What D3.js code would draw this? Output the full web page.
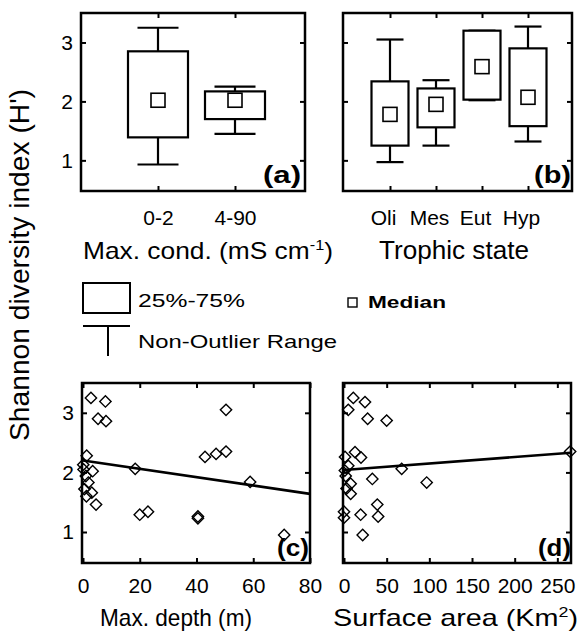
<!DOCTYPE html>
<html><head><meta charset="utf-8">
<script src="https://cdn.jsdelivr.net/npm/d3@7"></script>
<style>
body{margin:0;background:#fff}
svg{display:block}
text{font-family:"Liberation Sans",Arial,sans-serif;fill:#000}
</style>
</head><body>
<svg id="chart" width="580" height="637"></svg>
<script>
// ---------- data ----------
const yTicks = [1, 2, 3];

const condCats = ["0-2", "4-90"];
const condLo  = [0.93, 1.45];
const condQ1  = [1.39, 1.70];
const condMed = [2.02, 2.02];
const condQ3  = [2.85, 2.17];
const condHi  = [3.25, 2.25];

const trophCats = ["Oli", "Mes", "Eut", "Hyp"];
const trophLo  = [0.97, 1.25, 2.02, 1.32];
const trophQ1  = [1.25, 1.56, 2.03, 1.58];
const trophMed = [1.78, 1.95, 2.59, 2.07];
const trophQ3  = [2.34, 2.22, 3.20, 2.90];
const trophHi  = [3.05, 2.36, 3.20, 3.27];

const depthTicks = [0, 20, 40, 60, 80];
const depthX = [2.8, 7.9, 5.3, 8.1, 50.4, 1.3, 43, 46.9, 50.4, 18.4, 0.1, 3.4, 1.0, 1.9, 0.5, 3.1, 1.2, 4.6, 20, 22.9, 40.5, 40.5, 58.9, 70.9, 0.2];
const depthH = [3.25, 3.19, 2.90, 2.86, 3.05, 2.28, 2.26, 2.31, 2.35, 2.06, 2.13, 2.02, 1.94, 1.83, 1.72, 1.66, 1.60, 1.46, 1.29, 1.34, 1.26, 1.23, 1.84, 0.95, 2.05];
const depthFit = [2.20, -0.007];   // intercept, slope

const areaTicks = [0, 50, 100, 150, 200, 250];
const areaX = [10.9, 24.6, 5, 27.7, 50, 12.9, 19.9, 1.2, 5, 67.6, 265, 33.2, 96.9, 7.8, 7.8, 2, 39, 0, 19.5, 40, 0, 21.9, 3, 1];
const areaH = [3.25, 3.18, 3.05, 2.90, 2.87, 2.34, 2.25, 2.26, 2.11, 2.06, 2.35, 1.89, 1.83, 1.81, 1.64, 1.94, 1.46, 1.34, 1.29, 1.26, 1.24, 0.95, 1.73, 2.03];
const areaFit = [2.04, 0.00109];

// ---------- layout ----------
const svg = d3.select("#chart");
const yDomain = [0.48, 3.5];
const P = {
  a: {x0: 81,  x1: 305, y0: 13,  y1: 191},
  b: {x0: 343, x1: 572, y0: 13,  y1: 191},
  c: {x0: 82,  x1: 310, y0: 383, y1: 563},
  d: {x0: 343, x1: 571, y0: 383, y1: 563}
};
const TS = 5; // inward tick length
const TF = 21; // tick font size

function txt(x, y, s, size, opt = {}) {
  const t = svg.append("text").attr("x", x).attr("y", y)
    .style("font-size", size + "px");
  if (opt.weight) t.style("font-weight", opt.weight);
  if (opt.anchor) t.attr("text-anchor", opt.anchor);
  if (opt.sup) {
    t.append("tspan").text(s);
    t.append("tspan").text(opt.sup).attr("dy", -size * 0.38).style("font-size", (size * 0.62) + "px");
    t.append("tspan").text(opt.after).attr("dy", size * 0.38);
  } else t.text(s);
  if (opt.len) t.attr("textLength", opt.len).attr("lengthAdjust", "spacingAndGlyphs");
  return t;
}

function styleAxis(g, size) {
  g.select(".domain").remove();
  g.selectAll(".tick line").attr("stroke", "#000").attr("stroke-width", 2);
  g.selectAll(".tick text").style("font-size", size + "px").attr("fill", "#000")
    .style("font-family", '"Liberation Sans",Arial,sans-serif');
}

function framePanel(p, x, y, showYLabels, xLabelPad, xLabelDx) {
  const isBand = x.tv === undefined;
  const yl = svg.append("g").attr("transform", `translate(${p.x0},0)`)
    .call(d3.axisLeft(y).tickValues(yTicks).tickSize(-TS).tickPadding(8)
      .tickFormat(showYLabels ? d3.format("d") : () => ""));
  styleAxis(yl, TF);
  const yr = svg.append("g").attr("transform", `translate(${p.x1},0)`)
    .call(d3.axisRight(y).tickValues(yTicks).tickSize(-TS).tickFormat(() => ""));
  styleAxis(yr, TF);
  const xb = svg.append("g").attr("transform", `translate(0,${p.y1})`)
    .call((isBand ? d3.axisBottom(x) : d3.axisBottom(x).tickValues(x.tv).tickFormat(d3.format("d")))
      .tickSize(-TS).tickPadding(xLabelPad));
  styleAxis(xb, TF);
  if (xLabelDx) xb.selectAll(".tick text").attr("dx", xLabelDx);
  const xt = svg.append("g").attr("transform", `translate(0,${p.y0})`)
    .call((isBand ? d3.axisTop(x) : d3.axisTop(x).tickValues(x.tv))
      .tickSize(-TS).tickFormat(() => ""));
  styleAxis(xt, TF);
  svg.append("rect").attr("x", p.x0).attr("y", p.y0)
    .attr("width", p.x1 - p.x0).attr("height", p.y1 - p.y0)
    .attr("fill", "none").attr("stroke", "#000").attr("stroke-width", 2.5);
}

function boxes(cats, lo, q1, med, q3, hi, x, y, bw, cw) {
  const g = svg.append("g").attr("stroke", "#000").attr("stroke-width", 2.2).attr("fill", "none");
  cats.forEach((c, i) => {
    const cx = x(c);
    g.append("line").attr("x1", cx).attr("x2", cx).attr("y1", y(hi[i])).attr("y2", y(q3[i]));
    g.append("line").attr("x1", cx).attr("x2", cx).attr("y1", y(q1[i])).attr("y2", y(lo[i]));
    g.append("line").attr("x1", cx - cw / 2).attr("x2", cx + cw / 2).attr("y1", y(hi[i])).attr("y2", y(hi[i]));
    g.append("line").attr("x1", cx - cw / 2).attr("x2", cx + cw / 2).attr("y1", y(lo[i])).attr("y2", y(lo[i]));
    g.append("rect").attr("x", cx - bw / 2).attr("y", y(q3[i]))
      .attr("width", bw).attr("height", y(q1[i]) - y(q3[i])).attr("fill", "#fff");
    g.append("rect").attr("x", cx - 7).attr("y", y(med[i]) - 7)
      .attr("width", 14).attr("height", 14).attr("fill", "#fff").attr("stroke-width", 1.6);
  });
}

function scatter(xs, hs, fit, x, y) {
  const sym = d3.symbol(d3.symbolSquare, 64);
  svg.append("g").selectAll("path").data(xs.map((v, i) => [v, hs[i]])).join("path")
    .attr("d", sym)
    .attr("transform", d => `translate(${x(d[0])},${y(d[1])}) rotate(45)`)
    .attr("fill", "none").attr("stroke", "#000").attr("stroke-width", 1.4);
  const dom = x.domain();
  svg.append("path")
    .datum([dom[0], dom[1]])
    .attr("d", d3.line().x(d => x(d)).y(d => y(fit[0] + fit[1] * d)))
    .attr("fill", "none").attr("stroke", "#000").attr("stroke-width", 2.6);
}

// ---------- panel a ----------
{
  const p = P.a;
  const y = d3.scaleLinear().domain(yDomain).range([p.y1, p.y0]);
  const x = d3.scalePoint().domain(condCats).range([158, 235]);
  framePanel(p, x, y, true, 19, 0);
  boxes(condCats, condLo, condQ1, condMed, condQ3, condHi, x, y, 60, 41);
  txt(263, 183, "(a)", 23, {weight: "bold", len: 38});
}
// ---------- panel b ----------
{
  const p = P.b;
  const y = d3.scaleLinear().domain(yDomain).range([p.y1, p.y0]);
  const x = d3.scalePoint().domain(trophCats).range([390, 528]);
  framePanel(p, x, y, false, 19, -7);
  boxes(trophCats, trophLo, trophQ1, trophMed, trophQ3, trophHi, x, y, 37, 27);
  txt(534, 183, "(b)", 23, {weight: "bold", len: 37});
}
// ---------- panel c ----------
{
  const p = P.c;
  const y = d3.scaleLinear().domain(yDomain).range([p.y1, p.y0]);
  const x = d3.scaleLinear().domain([0, 80]).range([83, 310]);
  x.tv = depthTicks;
  framePanel(p, x, y, true, 15, 0);
  scatter(depthX, depthH, depthFit, x, y);
  txt(277, 556, "(c)", 23, {weight: "bold", len: 32});
}
// ---------- panel d ----------
{
  const p = P.d;
  const y = d3.scaleLinear().domain(yDomain).range([p.y1, p.y0]);
  const x = d3.scaleLinear().domain([0, 266]).range([344, 571]);
  x.tv = areaTicks;
  framePanel(p, x, y, false, 15, 0);
  scatter(areaX, areaH, areaFit, x, y);
  txt(538, 556, "(d)", 23, {weight: "bold", len: 33});
}

// ---------- titles ----------
txt(83, 259, "Max. cond. (mS cm", 24, {sup: "-1", after: ")", len: 250});
txt(379, 259, "Trophic state", 25, {len: 150});
txt(100, 626, "Max. depth (m)", 24, {len: 152});
txt(333, 626, "Surface area (Km", 24, {sup: "2", after: ")", len: 245});
svg.append("text")
  .attr("transform", "translate(29,265) rotate(-90)")
  .attr("text-anchor", "middle")
  .style("font-size", "27px")
  .attr("textLength", 352).attr("lengthAdjust", "spacingAndGlyphs")
  .text("Shannon diversity index (H')");

// ---------- legend ----------
svg.append("rect").attr("x", 83).attr("y", 283).attr("width", 47).attr("height", 30)
  .attr("fill", "none").attr("stroke", "#000").attr("stroke-width", 2);
svg.append("line").attr("x1", 83).attr("x2", 130).attr("y1", 326).attr("y2", 326)
  .attr("stroke", "#000").attr("stroke-width", 2);
svg.append("line").attr("x1", 108).attr("x2", 108).attr("y1", 326).attr("y2", 356)
  .attr("stroke", "#000").attr("stroke-width", 2);
txt(138, 307, "25%-75%", 19, {len: 107});
txt(138, 348, "Non-Outlier Range", 19, {len: 199});
svg.append("rect").attr("x", 348).attr("y", 298).attr("width", 9).attr("height", 9)
  .attr("fill", "none").attr("stroke", "#000").attr("stroke-width", 1.4);
txt(368, 308, "Median", 17, {weight: "bold", len: 78});
</script>
</body></html>
